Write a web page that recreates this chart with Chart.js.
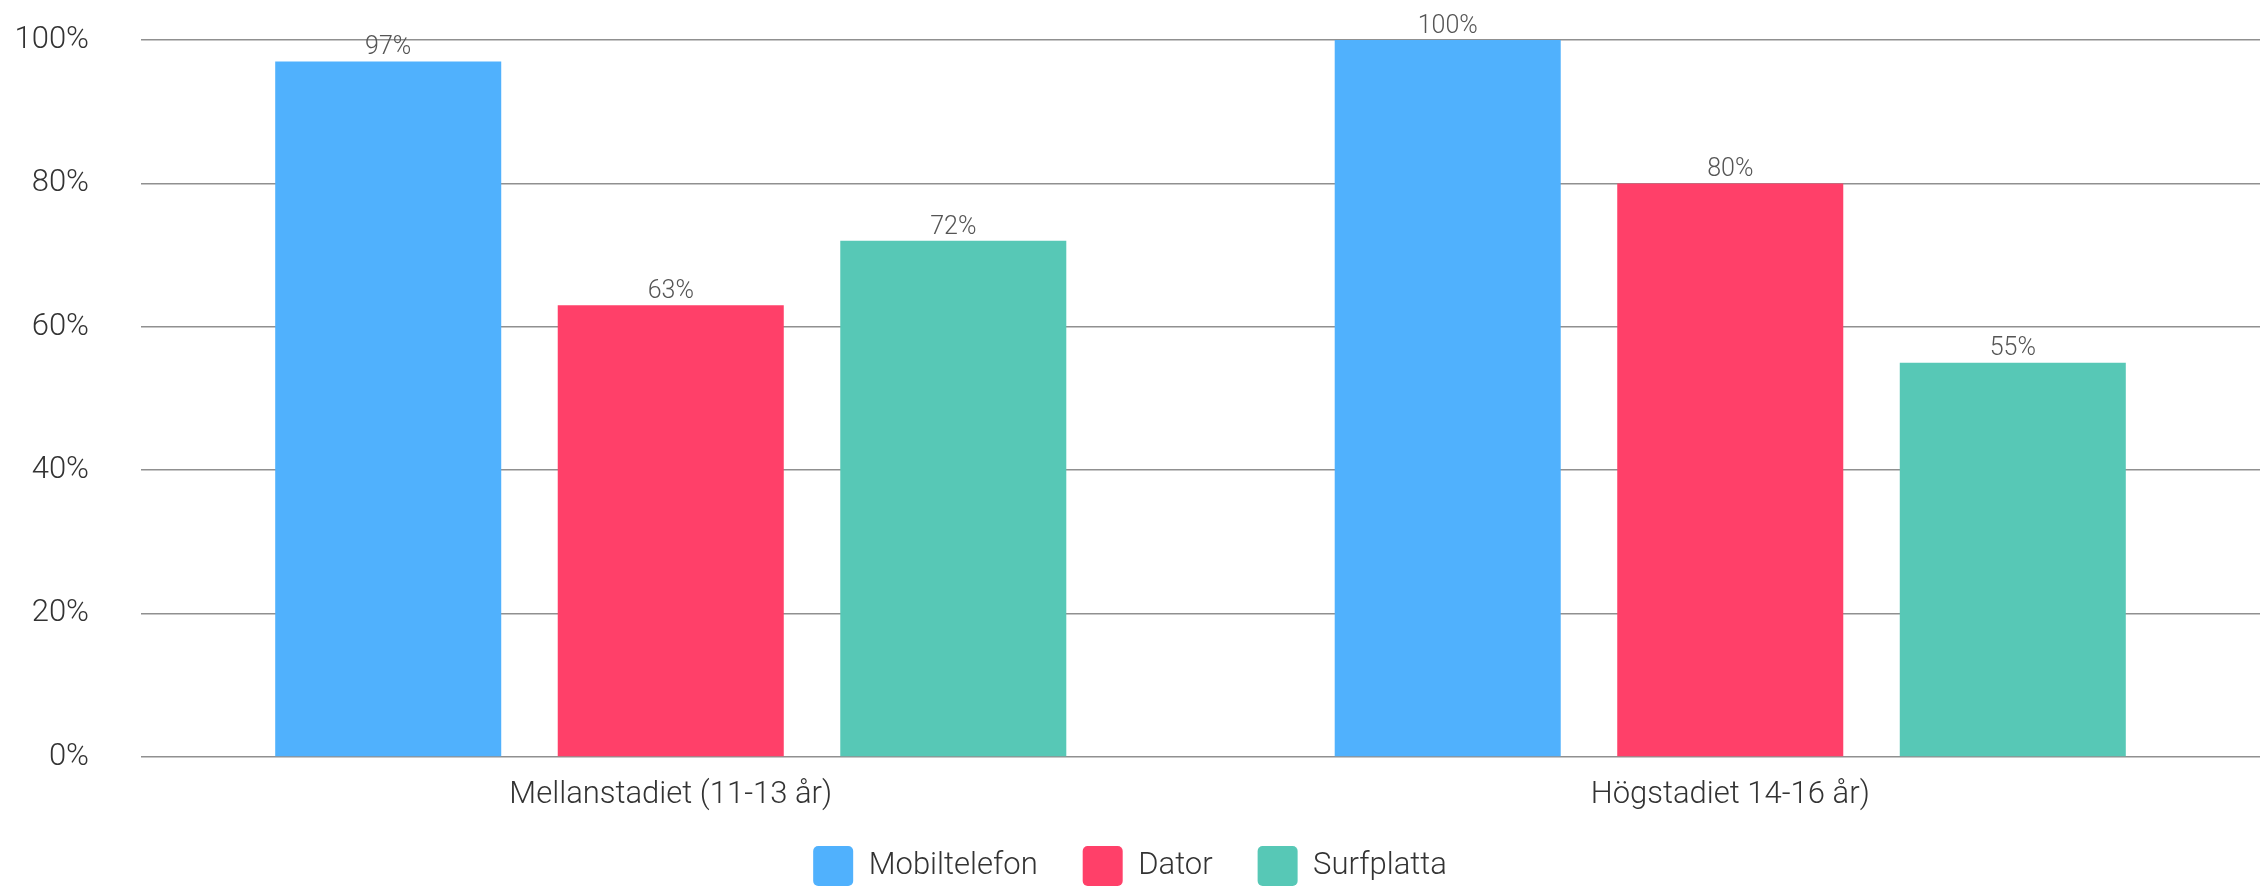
<!DOCTYPE html>
<html>
<head>
<meta charset="utf-8">
<script src="https://cdn.jsdelivr.net/npm/chart.js@4.4.1/dist/chart.umd.min.js"></script>
<style>
html,body{margin:0;padding:0;background:#fff;}
#c{display:block;}
</style>
</head>
<body>
<canvas id="c" width="2260" height="887"></canvas>
<script>
const categories = ['Mellanstadiet (11-13 år)', 'Högstadiet 14-16 år)'];
const mobiltelefon = [97, 100];
const dator = [63, 80];
const surfplatta = [72, 55];
const seriesNames = ['Mobiltelefon', 'Dator', 'Surfplatta'];
const yTicks = [0, 20, 40, 60, 80, 100];

const FONT = "Roboto, 'Noto Sans', sans-serif";
const LEGEND_PAD = 45;

const valueLabels = {
  id: 'valueLabels',
  afterDatasetsDraw(chart) {
    const ctx = chart.ctx;
    ctx.save();
    ctx.font = '300 25px ' + FONT;
    ctx.fillStyle = '#555';
    ctx.textAlign = 'center';
    ctx.textBaseline = 'bottom';
    chart.data.datasets.forEach((ds, i) => {
      const meta = chart.getDatasetMeta(i);
      meta.data.forEach((bar, j) => {
        ctx.fillText(ds.data[j] + '%', bar.x, bar.y - 1);
      });
    });
    ctx.restore();
  }
};

const layoutPatch = {
  id: 'layoutPatch',
  beforeLayout(chart) {
    const lg = chart.legend;
    if (lg && !lg._patched) {
      const orig = lg.fit.bind(lg);
      lg.fit = function () { orig(); this.height = 887 - 846 + LEGEND_PAD; };
      lg._patched = true;
    }
  },
  afterLayout(chart) {
    const x = chart.scales.x;
    x.bottom = x.top + 70;
  }
};

new Chart(document.getElementById('c'), {
  type: 'bar',
  data: {
    labels: categories,
    datasets: [
      { label: seriesNames[0], data: mobiltelefon, backgroundColor: '#50B1FD' },
      { label: seriesNames[1], data: dator, backgroundColor: '#FF4069' },
      { label: seriesNames[2], data: surfplatta, backgroundColor: '#57C8B6' }
    ]
  },
  options: {
    responsive: false,
    animation: false,
    devicePixelRatio: 1,
    layout: { padding: { top: 40, right: 0, left: 0, bottom: 0 } },
    datasets: { bar: { barPercentage: 0.8, categoryPercentage: 0.8 } },
    plugins: {
      legend: {
        position: 'bottom',
        labels: {
          boxWidth: 40,
          boxHeight: 40,
          padding: LEGEND_PAD,
          color: '#333',
          font: { family: FONT, size: 31, weight: '300' },
          useBorderRadius: true,
          borderRadius: 5
        }
      },
      tooltip: { enabled: false }
    },
    scales: {
      x: {
        afterFit(scale) { scale.height = 44; },
        grid: { display: false, drawTicks: false },
        border: { display: false },
        ticks: { color: '#333', padding: 20, font: { family: FONT, size: 31, weight: '300' } }
      },
      y: {
        min: 0, max: 100,
        afterFit(scale) { scale.width = 141; scale.paddingTop = 0; scale.paddingBottom = 0; },
        afterBuildTicks(scale) { scale.ticks = yTicks.map(v => ({ value: v })); },
        grid: { color: '#909090', lineWidth: 1.5, drawTicks: false },
        border: { display: false },
        ticks: {
          color: '#333', padding: 52,
          font: { family: FONT, size: 31, weight: '300' },
          callback: v => v + '%'
        }
      }
    }
  },
  plugins: [valueLabels, layoutPatch]
});
</script>
</body>
</html>
